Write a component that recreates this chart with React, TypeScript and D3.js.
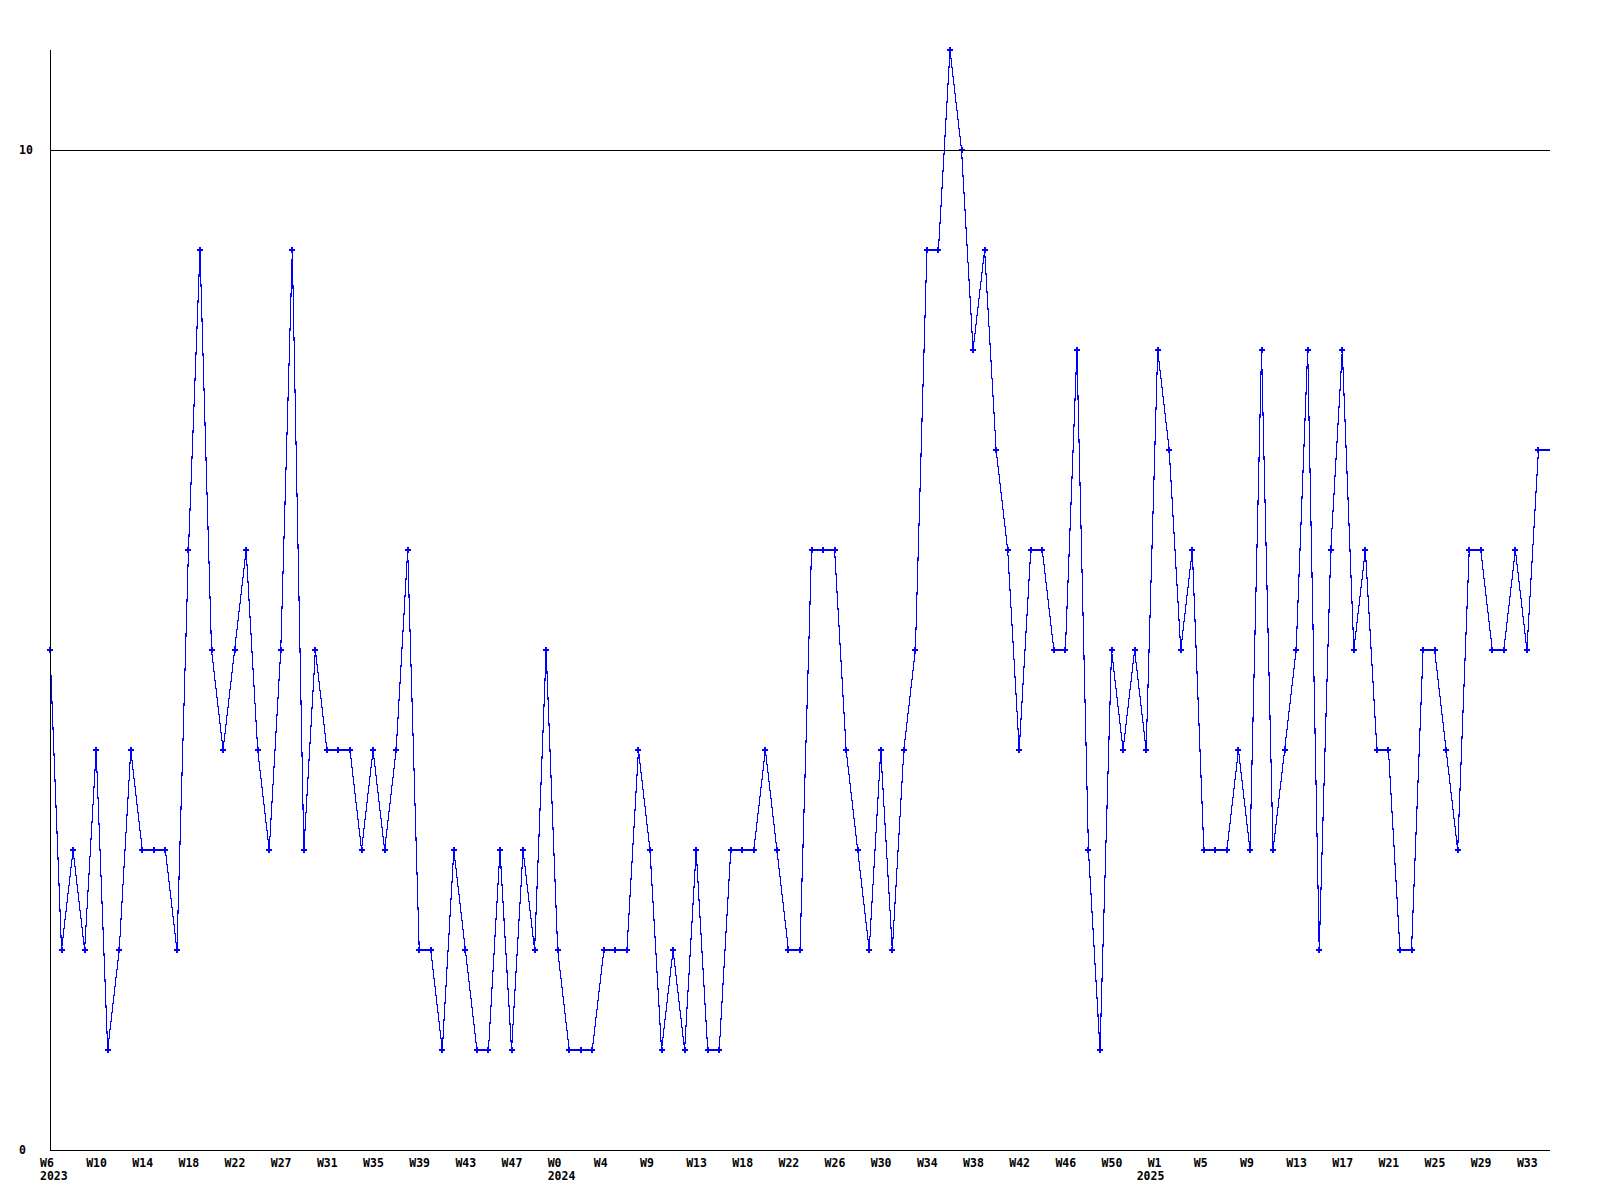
import React from "react";
import * as d3 from "d3";

const values: number[] = [
  5, 2, 3, 2, 4, 1, 2, 4, 3, 3,
  3, 2, 6, 9, 5, 4, 5, 6, 4, 3,
  5, 9, 3, 5, 4, 4, 4, 3, 4, 3,
  4, 6, 2, 2, 1, 3, 2, 1, 1, 3,
  1, 3, 2, 5, 2, 1, 1, 1, 2, 2,
  2, 4, 3, 1, 2, 1, 3, 1, 1, 3,
  3, 3, 4, 3, 2, 2, 6, 6, 6, 4,
  3, 2, 4, 2, 4, 5, 9, 9, 11, 10,
  8, 9, 7, 6, 4, 6, 6, 5, 5, 8,
  3, 1, 5, 4, 5, 4, 8, 7, 5, 6,
  3, 3, 3, 4, 3, 8, 3, 4, 5, 8,
  2, 6, 8, 5, 6, 4, 4, 2, 2, 5,
  5, 4, 3, 6, 6, 5, 5, 6, 5, 7,
];

// one label every 4th data point
const weekLabels: string[] = [
  "W6", "W10", "W14", "W18", "W22", "W27", "W31", "W35", "W39", "W43", "W47",
  "W0", "W4", "W9", "W13", "W18", "W22", "W26", "W30", "W34", "W38", "W42", "W46", "W50",
  "W1", "W5", "W9", "W13", "W17", "W21", "W25", "W29", "W33",
];
const labelStep = 4;

const yearLabels: { tick: number; label: string }[] = [
  { tick: 0, label: "2023" },
  { tick: 11, label: "2024" },
  { tick: 24, label: "2025" },
];

const yTicks: number[] = [0, 10];
const yMax = 11;

export default function App() {
  const W = 1600;
  const H = 1200;
  const left = 50;
  const right = 1550;
  const top = 50;
  const bottom = 1150;

  const n = values.length;
  const x = d3.scaleLinear().domain([0, n]).range([left, right]);
  const y = d3.scaleLinear().domain([0, yMax]).range([bottom, top]);

  const pts: [number, number][] = values.map((v, i) => [x(i), y(v)]);
  pts.push([x(n), y(values[n - 1])]);
  const line = d3.line<[number, number]>().x((d) => d[0]).y((d) => d[1]);
  const marker = d3.symbol().type(d3.symbolCross).size(20)();

  const font = "'DejaVu Sans Mono', 'Liberation Mono', monospace";
  const fs = 11.5;

  return (
    <svg
      width={W}
      height={H}
      style={{ position: "absolute", left: 0, top: 0, background: "#fff" }}
    >
      <rect x={0} y={0} width={W} height={H} fill="#fff" />
      <path
        d={line(pts) || ""}
        fill="none"
        stroke="#0000ff"
        strokeWidth={1.1}
        shapeRendering="crispEdges"
      />
      {values.map((v, i) => (
        <path
          key={i}
          d={marker || ""}
          transform={`translate(${x(i)},${y(v)})`}
          fill="#0000ff"
          shapeRendering="crispEdges"
        />
      ))}
      {yTicks
        .filter((t) => t > 0)
        .map((t) => (
          <line
            key={t}
            x1={left}
            x2={x(n)}
            y1={Math.round(y(t)) + 0.5}
            y2={Math.round(y(t)) + 0.5}
            stroke="#000"
            strokeWidth={1}
          />
        ))}
      <line x1={left + 0.5} x2={left + 0.5} y1={top} y2={bottom + 1} stroke="#000" strokeWidth={1} />
      <line x1={left} x2={x(n)} y1={bottom + 0.5} y2={bottom + 0.5} stroke="#000" strokeWidth={1} />
      {yTicks.map((t) => (
        <text
          key={t}
          x={19}
          y={y(t) + 4}
          fontFamily={font}
          fontWeight="bold"
          fontSize={fs}
          fill="#000"
        >
          {t}
        </text>
      ))}
      {weekLabels.map((lab, k) => (
        <text
          key={k}
          x={x(k * labelStep) - 10}
          y={1167}
          fontFamily={font}
          fontWeight="bold"
          fontSize={fs}
          fill="#000"
        >
          {lab}
        </text>
      ))}
      {yearLabels.map((yl) => {
        const xi = x(yl.tick * labelStep);
        const last = yl.tick === yearLabels[yearLabels.length - 1].tick;
        return (
          <text
            key={yl.label}
            x={last ? xi - 21 : xi - 10}
            y={1180}
            fontFamily={font}
            fontWeight="bold"
            fontSize={fs}
            fill="#000"
          >
            {yl.label}
          </text>
        );
      })}
    </svg>
  );
}
